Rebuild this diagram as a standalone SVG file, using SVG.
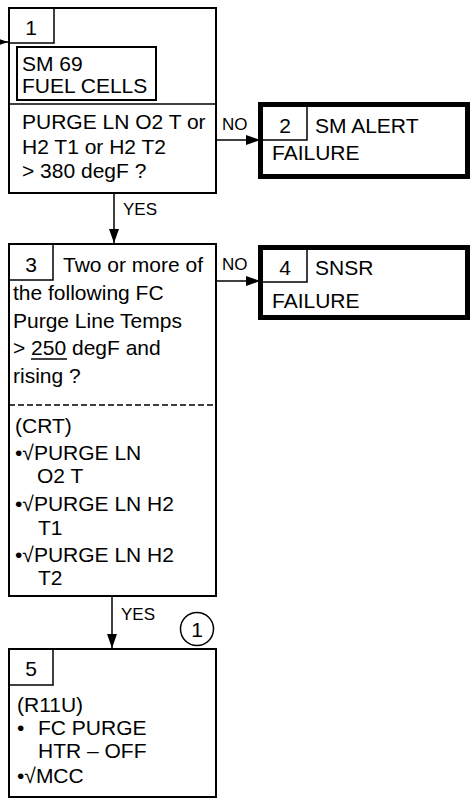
<svg xmlns="http://www.w3.org/2000/svg" width="474" height="803" viewBox="0 0 474 803">
<defs>
<marker id="ah" markerWidth="14" markerHeight="10" refX="14" refY="5" orient="auto" markerUnits="userSpaceOnUse">
<path d="M0,0 L14,5 L0,10 Z" fill="#000"/>
</marker>
<style>
text{font-family:"Liberation Sans",Arial,sans-serif;font-size:21px;fill:#000}
.lbl{font-size:17px}
.box{fill:#fff;stroke:#000;stroke-width:2}
.thick{fill:#fff;stroke:#000;stroke-width:5}
.num{fill:none;stroke:#000;stroke-width:1.5}
.ln{stroke:#000;stroke-width:1.5;fill:none}
</style>
</defs>
<rect width="474" height="803" fill="#fff"/>
<g id="connectors">
<line class="ln" x1="0" y1="42" x2="8" y2="42" marker-end="url(#ah)"/>
<line class="ln" x1="217" y1="140" x2="260" y2="140" marker-end="url(#ah)"/>
<text class="lbl" x="222" y="130">NO</text>
<line class="ln" x1="114" y1="194" x2="114" y2="243" marker-end="url(#ah)"/>
<text class="lbl" x="123" y="215">YES</text>
<line class="ln" x1="216" y1="281" x2="260" y2="281" marker-end="url(#ah)"/>
<text class="lbl" x="222" y="270">NO</text>
<line class="ln" x1="112" y1="597" x2="112" y2="648" marker-end="url(#ah)"/>
<text class="lbl" x="121" y="620">YES</text>
</g>
<g id="node1">
<rect class="box" x="9" y="8" width="207" height="185"/>
<rect class="num" x="9" y="8" width="45" height="35"/>
<text x="31" y="35" text-anchor="middle">1</text>
<rect class="box" x="17" y="47" width="139" height="53"/>
<text x="22" y="71">SM 69</text>
<text x="22" y="93">FUEL CELLS</text>
<line class="ln" x1="9" y1="104" x2="216" y2="104" stroke-width="2"/>
<text x="22" y="129">PURGE LN O2 T or</text>
<text x="22" y="154">H2 T1 or H2 T2</text>
<text x="22" y="178">&gt; 380 degF ?</text>
</g>
<g id="node2">
<rect class="thick" x="260.5" y="104.5" width="207" height="72"/>
<polyline class="num" points="263,140 307,140 307,107"/>
<text x="285" y="133" text-anchor="middle">2</text>
<text x="315" y="133">SM ALERT</text>
<text x="272" y="160">FAILURE</text>
</g>
<g id="node3">
<rect class="box" x="9" y="244" width="207" height="352"/>
<rect class="num" x="9" y="244" width="44" height="36"/>
<text x="31" y="272" text-anchor="middle">3</text>
<text x="63" y="272">Two or more of</text>
<text x="13" y="300">the following FC</text>
<text x="13" y="328">Purge Line Temps</text>
<text x="13" y="355">&gt; 250 degF and</text>
<line class="ln" x1="31" y1="359" x2="67" y2="359"/>
<text x="13" y="383">rising ?</text>
<line class="ln" x1="9" y1="405" x2="216" y2="405" stroke-dasharray="6 3"/>
<text x="15" y="433">(CRT)</text>
<text x="15" y="460">•√PURGE LN</text>
<text x="37" y="483">O2 T</text>
<text x="15" y="511">•√PURGE LN H2</text>
<text x="38" y="535">T1</text>
<text x="15" y="562">•√PURGE LN H2</text>
<text x="38" y="585">T2</text>
</g>
<g id="node4">
<rect class="thick" x="260.5" y="247.5" width="207" height="70"/>
<polyline class="num" points="263,282 307,282 307,250"/>
<text x="285" y="275" text-anchor="middle">4</text>
<text x="315" y="275">SNSR</text>
<text x="272" y="308">FAILURE</text>
</g>
<g id="connector-ref">
<circle cx="197" cy="629" r="16.5" fill="none" stroke="#000" stroke-width="1.5"/>
<text x="197" y="637" text-anchor="middle">1</text>
</g>
<g id="node5">
<rect class="box" x="9" y="649" width="207" height="148"/>
<rect class="num" x="9" y="649" width="44" height="36"/>
<text x="31" y="676" text-anchor="middle">5</text>
<text x="17" y="712">(R11U)</text>
<text x="17" y="735">•</text>
<text x="38" y="735">FC PURGE</text>
<text x="38" y="758">HTR – OFF</text>
<text x="17" y="783">•√MCC</text>
</g>
</svg>
